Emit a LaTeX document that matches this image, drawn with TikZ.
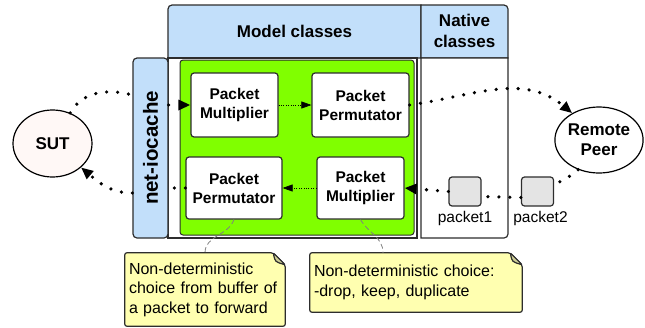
\documentclass[tikz,border=0pt]{standalone}
\usepackage{fontspec}
\setmainfont{Liberation Sans}
\usepackage{tikz}
\usetikzlibrary{arrows.meta,shapes.geometric,backgrounds,positioning}

\definecolor{headblue}{RGB}{194,223,250}
\definecolor{modelgreen}{RGB}{128,255,0}
\definecolor{noteyellow}{RGB}{255,255,176}
\definecolor{notefold}{RGB}{206,206,150}
\definecolor{pktgrey}{RGB}{228,228,228}
\definecolor{sutfill}{RGB}{255,248,246}
\definecolor{edgegrey}{RGB}{45,45,45}

\begin{document}
\begin{tikzpicture}[x=1pt,y=1pt,
    frame/.style={draw=edgegrey, line width=1.2pt},
    cls/.style={draw=edgegrey, line width=1.2pt, fill=white, rounded corners=3pt, align=center,
        font=\fontsize{15.5}{19}\selectfont\bfseries, inner sep=0pt},
    host/.style={ellipse, draw=black, line width=1.2pt, align=center,
        font=\fontsize{17}{20}\selectfont\bfseries, inner sep=0pt},
    pkt/.style={draw=edgegrey, line width=1.2pt, fill=pktgrey, rounded corners=3pt,
        minimum width=32pt, minimum height=29pt, inner sep=0pt},
    pktlabel/.style={font=\fontsize{15.5}{18}\selectfont, inner sep=0pt},
    note/.style={align=left, inner xsep=4pt, inner ysep=0pt, font=\fontsize{16}{19.5}\selectfont},
    notebody/.style={draw=edgegrey, line width=1.2pt, fill=noteyellow, rounded corners=2pt},
    bigdots/.style={line width=3.6pt, line cap=round, dash pattern=on 0pt off 11pt},
    smalldots/.style={line width=0.6pt, dash pattern=on 0.8pt off 1.6pt},
    bigtip/.style={-{Triangle[length=12pt,width=10pt]}},
    smalltip/.style={-{Triangle[length=10pt,width=7pt]}},
    anno/.style={draw=gray, line width=0.8pt, dash pattern=on 5pt off 3pt}
]
\useasboundingbox (0,0) rectangle (645,-327);

\draw[frame, fill=headblue] (168,-58) [rounded corners=4pt] -- (168,-5) -- (300,-5) [sharp corners] -- (421,-5) -- (421,-58) -- cycle;
\draw[frame, fill=headblue] (421,-58) -- (421,-5) -- (460,-5) [rounded corners=4pt] -- (508,-5) -- (508,-30) [sharp corners] -- (508,-58) -- cycle;
\draw[frame, fill=white] (168,-58) rectangle (417,-238);
\draw[frame, fill=white] (421,-58) -- (508,-58) -- (508,-150) [rounded corners=4pt] -- (508,-238) -- (460,-238) [sharp corners] -- (421,-238) -- cycle;

\node[font=\fontsize{17}{21}\selectfont\bfseries] (modelhead) at (294.5,-31) {Model classes};
\node[font=\fontsize{17}{21}\selectfont\bfseries, align=center] (nativehead) at (464.5,-31) {Native\\classes};

\node[draw=edgegrey, line width=1.2pt, fill=headblue, rounded corners=4pt, minimum width=35pt,
    minimum height=180pt, inner sep=0pt, font=\fontsize{20.5}{24}\selectfont\bfseries]
    (net) at (150.5,-148) {\rotatebox{90}{net-iocache}};

\draw[draw=edgegrey, line width=1pt, fill=modelgreen, rounded corners=3pt] (180,-60) rectangle (414,-235);

\node[cls, minimum width=87pt, minimum height=64pt] (pm1) at (234.5,-105) {Packet\\Multiplier};
\node[cls, minimum width=97pt, minimum height=64pt] (pp1) at (360.5,-105) {Packet\\Permutator};
\node[cls, minimum width=96pt, minimum height=62pt] (pp2) at (234,-188) {Packet\\Permutator};
\node[cls, minimum width=87pt, minimum height=62pt] (pm2) at (360.5,-188) {Packet\\Multiplier};

\node[host, fill=sutfill, minimum width=79pt, minimum height=67pt] (sut) at (52.5,-143.5) {SUT};
\node[host, fill=white, minimum width=80pt, minimum height=66pt] (remote) at (599,-140) {Remote\\Peer};

\node[pkt] (pkt1) at (465,-191.5) {};
\node[pkt] (pkt2) at (537.5,-191.5) {};
\node[pktlabel, below=4pt of pkt1.south] (pkt1label) {packet1};
\node[pktlabel, below=4pt of pkt2.south, xshift=3pt] (pkt2label) {packet2};

\node[note, text width=152pt, minimum height=73pt] (note1) at (205,-289.5)
    {Non-deterministic\\choice from buffer of\\a packet to forward};
\node[note, text width=204pt, minimum height=59pt] (note2) at (416,-282.5)
    {Non-deterministic choice:\\-drop, keep, duplicate};

\begin{pgfonlayer}{background}
\draw[notebody] (note1.south west) -- (note1.north west) -- ([xshift=-12pt]note1.north east)
    -- ([yshift=-12pt]note1.north east) -- (note1.south east) -- cycle;
\draw[notebody, fill=notefold] ([xshift=-12pt]note1.north east) .. controls ([shift={(-10pt,-9pt)}]note1.north east) .. ([yshift=-12pt]note1.north east) -- cycle;
\draw[notebody] (note2.south west) -- (note2.north west) -- ([xshift=-12pt]note2.north east)
    -- ([yshift=-12pt]note2.north east) -- (note2.south east) -- cycle;
\draw[notebody, fill=notefold] ([xshift=-12pt]note2.north east) .. controls ([shift={(-10pt,-9pt)}]note2.north east) .. ([yshift=-12pt]note2.north east) -- cycle;
\end{pgfonlayer}

\draw[bigdots] (sut.60) to[out=60,in=165] ([yshift=53pt]net.west);
\draw[bigdots, bigtip] ([yshift=43pt]net.east) -- (pm1.west);
\draw[smalldots, smalltip] (pm1) -- (pp1);
\draw[bigdots, bigtip] (pp1.east) to[out=8,in=140] (remote.135);
\draw[bigdots] (remote.235) to[out=225,in=45] ([yshift=5pt]pkt2.east);
\draw[bigdots] ([yshift=-6pt]pkt2.west) -- ([yshift=-5pt]pkt1.east);
\draw[bigdots, bigtip] (pkt1.west) -- (pm2.east);
\draw[smalldots, smalltip] (pm2) -- (pp2);
\draw[bigdots] (pp2.west) -- ([yshift=-40pt]net.east);
\draw[bigdots, bigtip] ([yshift=-45pt]net.west) to[out=180,in=-40] (sut.-40);

\draw[anno] (pp2.south) to[out=-110,in=90] (note1.north);
\draw[anno] (pm2.south) to[out=-60,in=90] ([xshift=-33pt]note2.north);

\end{tikzpicture}
\end{document}
